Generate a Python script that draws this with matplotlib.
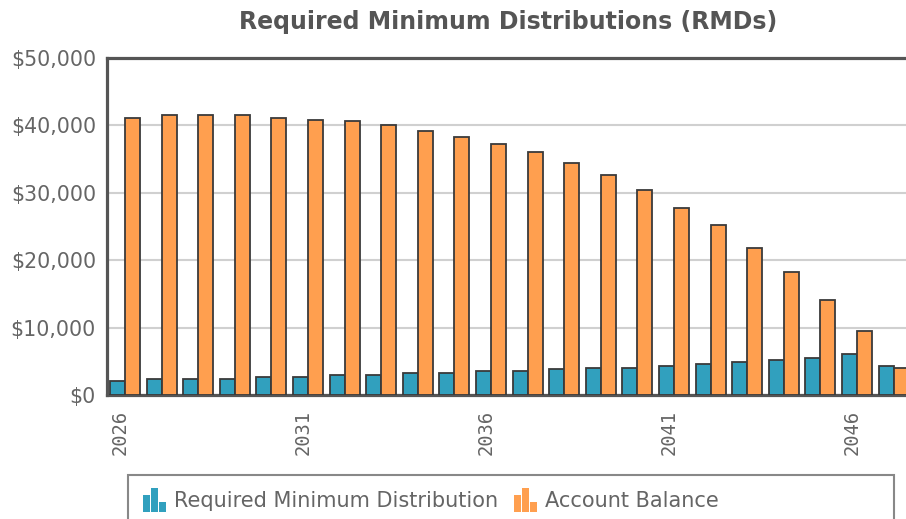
import matplotlib
matplotlib.use("Agg")
import matplotlib.pyplot as plt
import matplotlib.transforms as mtransforms
import numpy as np
from matplotlib.patches import Rectangle
from matplotlib.legend_handler import HandlerBase

years = list(range(2026, 2048))
rmd = [2100, 2400, 2400, 2400, 2650, 2650, 2900, 2900, 3200, 3200, 3500,
       3500, 3800, 4050, 4050, 4350, 4650, 4950, 5250, 5500, 6100, 4350]
balance = [41100, 41500, 41500, 41500, 41100, 40850, 40600, 40100, 39200,
           38350, 37200, 36050, 34350, 32600, 30350, 27750, 25150, 21750,
           18300, 14150, 9450, 4000]
yticks = [0, 10000, 20000, 30000, 40000, 50000]
ytick_labels = ["$0", "$10,000", "$20,000", "$30,000", "$40,000", "$50,000"]
series_names = ["Required Minimum Distribution", "Account Balance"]
title = "Required Minimum Distributions (RMDs)"

BLUE = "#31a0be"
ORANGE = "#ff9f4f"
EDGE = "#3a3a3a"
TXT = "#656565"

W, H = 906, 519
fig = plt.figure(figsize=(W / 100, H / 100), dpi=100)
ax = fig.add_axes([107 / W, (H - 395) / H, (912 - 107) / W, (395 - 58) / H])

x = np.arange(len(years))
bw = 0.41
ax.bar(x - bw / 2, rmd, bw, color=BLUE, edgecolor=EDGE, linewidth=1.3, zorder=3)
ax.bar(x + bw / 2, balance, bw, color=ORANGE, edgecolor=EDGE, linewidth=1.3, zorder=3)

ax.set_xlim(-0.49, len(years) - 0.5)
ax.set_ylim(0, 50000)
ax.set_yticks(yticks)
ax.set_yticklabels(ytick_labels, fontsize=14.8, color=TXT)
ax.tick_params(axis="y", length=0, pad=8)
tick_idx = [i for i, yv in enumerate(years) if (yv - 2026) % 5 == 0]
ax.set_xticks(tick_idx)
ax.set_xticklabels([str(years[i]) for i in tick_idx], rotation=90, fontsize=13.5,
                   color=TXT, family="DejaVu Sans Mono")
ax.tick_params(axis="x", length=0, pad=11)
shift = mtransforms.ScaledTranslation(-5 / 100, 0, fig.dpi_scale_trans)
for lbl in ax.get_xticklabels():
    lbl.set_transform(lbl.get_transform() + shift)

ax.grid(axis="y", color="#d0d0d0", linewidth=1.5, zorder=0)
ax.set_axisbelow(True)
for s in ["left", "top", "bottom"]:
    ax.spines[s].set_color("#555555")
    ax.spines[s].set_linewidth(2.3)
ax.spines["right"].set_visible(False)

fig.text(508 / W, 1 - 22 / H, title, ha="center", va="center", fontsize=17,
         fontweight="bold", color="#555555")


class BarIcon(HandlerBase):
    def __init__(self, color):
        super().__init__()
        self.color = color

    def create_artists(self, legend, orig_handle, xdescent, ydescent, width,
                       height, fontsize, trans):
        arts = []
        bw_ = width / 3.45
        gap = bw_ * 0.22
        hs = [0.7, 1.0, 0.4]
        for i, h in enumerate(hs):
            r = Rectangle((-xdescent + i * (bw_ + gap), -ydescent - height * 0.35),
                          bw_, height * 1.65 * h, facecolor=self.color,
                          edgecolor="none", transform=trans)
            arts.append(r)
        return arts


h1 = Rectangle((0, 0), 1, 1)
h2 = Rectangle((0, 0), 1, 1)
leg = fig.legend([h1, h2], series_names, loc="center left",
                 bbox_to_anchor=(143 / W, (H - 501) / H), ncol=2, frameon=False,
                 fontsize=15, handlelength=1.1, handletextpad=0.4,
                 columnspacing=0.75, borderpad=0, borderaxespad=0,
                 handler_map={h1: BarIcon(BLUE), h2: BarIcon(ORANGE)})
for t in leg.get_texts():
    t.set_color(TXT)

fig.patches.append(Rectangle((128 / W, -0.1), (894 - 128) / W,
                             0.1 + (H - 475) / H, transform=fig.transFigure,
                             facecolor="white", edgecolor="#888888",
                             linewidth=1.5, zorder=0))

fig.savefig("out.png", dpi=100)
